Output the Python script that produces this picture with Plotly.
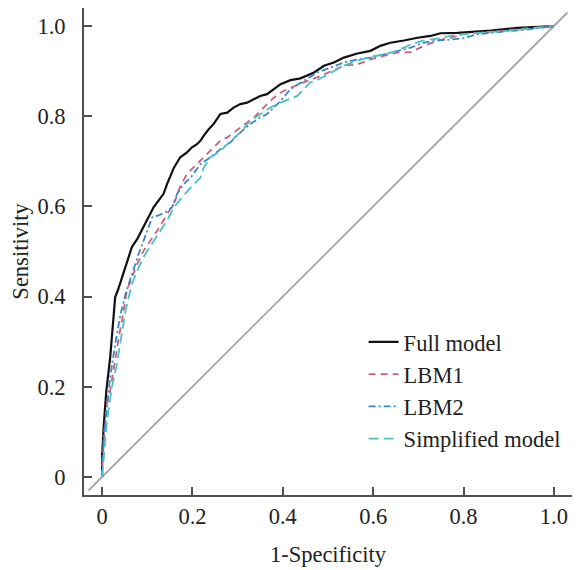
import plotly.graph_objects as go

# ---- data ----
full_x = [0, 0, 0.0035, 0.0095, 0.018, 0.029, 0.035, 0.041, 0.048, 0.055, 0.066, 0.078, 0.092, 0.103, 0.114, 0.122, 0.136, 0.144,
          0.159, 0.173, 0.188, 0.199, 0.210, 0.218, 0.225, 0.236, 0.247, 0.262, 0.277, 0.291, 0.306, 0.321, 0.336, 0.350, 0.365,
          0.380, 0.395, 0.417, 0.439, 0.469, 0.491, 0.513, 0.535, 0.565, 0.594, 0.616, 0.638, 0.668, 0.698, 0.727, 0.749, 0.786,
          0.830, 0.860, 0.919, 0.978, 1.0]
full_y = [0, 0.045, 0.111, 0.192, 0.266, 0.399, 0.414, 0.432, 0.451, 0.473, 0.510, 0.528, 0.554, 0.576, 0.598, 0.609, 0.628, 0.650,
          0.686, 0.709, 0.720, 0.731, 0.738, 0.746, 0.757, 0.771, 0.783, 0.805, 0.808, 0.819, 0.827, 0.830, 0.838, 0.845, 0.849,
          0.860, 0.871, 0.880, 0.884, 0.897, 0.912, 0.919, 0.930, 0.939, 0.945, 0.956, 0.963, 0.968, 0.974, 0.978, 0.984, 0.985,
          0.987, 0.990, 0.996, 0.998, 1.0]

lbm1_x = [0, 0, 0.005, 0.011, 0.018, 0.029, 0.037, 0.044, 0.055, 0.066, 0.078, 0.092, 0.107, 0.122, 0.140, 0.162, 0.173, 0.188,
          0.203, 0.218, 0.232, 0.247, 0.262, 0.277, 0.291, 0.306, 0.321, 0.336, 0.350, 0.365, 0.380, 0.395, 0.410, 0.424, 0.446,
          0.476, 0.506, 0.535, 0.565, 0.594, 0.624, 0.653, 0.683, 0.712, 0.742, 0.771, 0.801, 0.830, 0.860, 0.889, 0.919, 0.949, 1.0]
lbm1_y = [0, 0.023, 0.089, 0.163, 0.192, 0.266, 0.310, 0.347, 0.414, 0.443, 0.473, 0.502, 0.524, 0.546, 0.576, 0.613, 0.645, 0.672,
          0.687, 0.701, 0.716, 0.731, 0.746, 0.753, 0.764, 0.775, 0.786, 0.797, 0.812, 0.827, 0.841, 0.852, 0.860, 0.866, 0.875,
          0.886, 0.900, 0.912, 0.915, 0.926, 0.934, 0.941, 0.942, 0.956, 0.967, 0.974, 0.982, 0.985, 0.987, 0.990, 0.993, 0.995, 1.0]

lbm2_x = [0, 0, 0.0035, 0.0095, 0.018, 0.029, 0.041, 0.052, 0.059, 0.070, 0.081, 0.092, 0.103, 0.111, 0.125, 0.140, 0.155, 0.166,
          0.184, 0.196, 0.218, 0.240, 0.262, 0.284, 0.306, 0.328, 0.350, 0.365, 0.380, 0.395, 0.417, 0.446, 0.476, 0.506, 0.535,
          0.565, 0.594, 0.624, 0.653, 0.683, 0.712, 0.742, 0.771, 0.801, 0.830, 0.860, 0.889, 0.919, 0.949, 1.0]
lbm2_y = [0, 0.015, 0.089, 0.141, 0.222, 0.295, 0.362, 0.406, 0.428, 0.458, 0.495, 0.524, 0.554, 0.576, 0.580, 0.587, 0.598, 0.628,
          0.653, 0.664, 0.694, 0.709, 0.727, 0.742, 0.764, 0.783, 0.797, 0.805, 0.819, 0.834, 0.860, 0.878, 0.897, 0.908, 0.919,
          0.926, 0.930, 0.937, 0.945, 0.952, 0.963, 0.968, 0.970, 0.973, 0.982, 0.985, 0.987, 0.990, 0.993, 1.0]

simp_x = [0, 0.005, 0.011, 0.022, 0.033, 0.044, 0.052, 0.066, 0.081, 0.096, 0.114, 0.129, 0.144, 0.159, 0.177, 0.199, 0.218, 0.225,
          0.240, 0.262, 0.284, 0.306, 0.328, 0.350, 0.372, 0.395, 0.417, 0.432, 0.446, 0.461, 0.476, 0.506, 0.535, 0.565, 0.594,
          0.624, 0.653, 0.683, 0.712, 0.742, 0.771, 0.801, 0.830, 0.860, 0.889, 0.919, 0.949, 1.0]
simp_y = [0, 0.067, 0.126, 0.200, 0.252, 0.320, 0.369, 0.428, 0.465, 0.495, 0.524, 0.546, 0.569, 0.598, 0.620, 0.645, 0.664, 0.686,
          0.709, 0.723, 0.745, 0.764, 0.790, 0.805, 0.819, 0.830, 0.838, 0.845, 0.860, 0.875, 0.880, 0.897, 0.912, 0.923, 0.932,
          0.937, 0.945, 0.959, 0.968, 0.972, 0.978, 0.982, 0.985, 0.987, 0.989, 0.991, 0.995, 1.0]

diag_x = [-0.03, 1.03]
diag_y = [-0.03, 1.03]

tick_vals = [0, 0.2, 0.4, 0.6, 0.8, 1.0]
tick_text = ["0", "0.2", "0.4", "0.6", "0.8", "1.0"]

FONT = "Liberation Serif, Times New Roman, serif"
FS = 22.5
AXC = "#505050"
TXT = "#222222"

fig = go.Figure()
fig.add_trace(go.Scatter(x=diag_x, y=diag_y, mode="lines", showlegend=False, hoverinfo="skip",
                         line=dict(color="#a6a6a6", width=1.8)))
fig.add_trace(go.Scatter(x=full_x, y=full_y, mode="lines", name="Full model",
                         line=dict(color="#111111", width=2.2)))
fig.add_trace(go.Scatter(x=lbm1_x, y=lbm1_y, mode="lines", name="LBM1",
                         line=dict(color="#c9617c", width=1.8, dash="7px,5px")))
fig.add_trace(go.Scatter(x=lbm2_x, y=lbm2_y, mode="lines", name="LBM2",
                         line=dict(color="#3b86c9", width=1.8, dash="7px,3px,2px,3px")))
fig.add_trace(go.Scatter(x=simp_x, y=simp_y, mode="lines", name="Simplified model",
                         line=dict(color="#4cc0c5", width=1.8, dash="10px,5px")))

axis_common = dict(
    range=[-0.04, 1.04], tickvals=tick_vals, ticktext=tick_text,
    showgrid=False, zeroline=False, showline=True, linecolor=AXC, linewidth=2,
    ticks="inside", ticklen=8, tickwidth=1.5, tickcolor=AXC,
    tickfont=dict(family=FONT, size=FS, color=TXT),
)

fig.update_xaxes(**axis_common, title=dict(text="1-Specificity", font=dict(family=FONT, size=FS, color=TXT), standoff=18),
                 ticklabelstandoff=0)
fig.update_yaxes(**axis_common, title=dict(text="Sensitivity", font=dict(family=FONT, size=FS, color=TXT), standoff=7),
                 ticklabelstandoff=12)

# the page body adds an 8px offset; the figure is sized so the plot lands where the reference has it
fig.update_layout(
    width=572, height=562,
    margin=dict(l=76, r=8, t=0, b=75),
    plot_bgcolor="white", paper_bgcolor="white",
    font=dict(family=FONT, size=FS, color=TXT),
    legend=dict(x=0.573, y=0.358, xanchor="left", yanchor="top", bgcolor="rgba(0,0,0,0)",
                font=dict(family=FONT, size=FS, color=TXT), tracegroupgap=0, itemwidth=30),
    showlegend=True,
)

fig.write_html("out.html")
